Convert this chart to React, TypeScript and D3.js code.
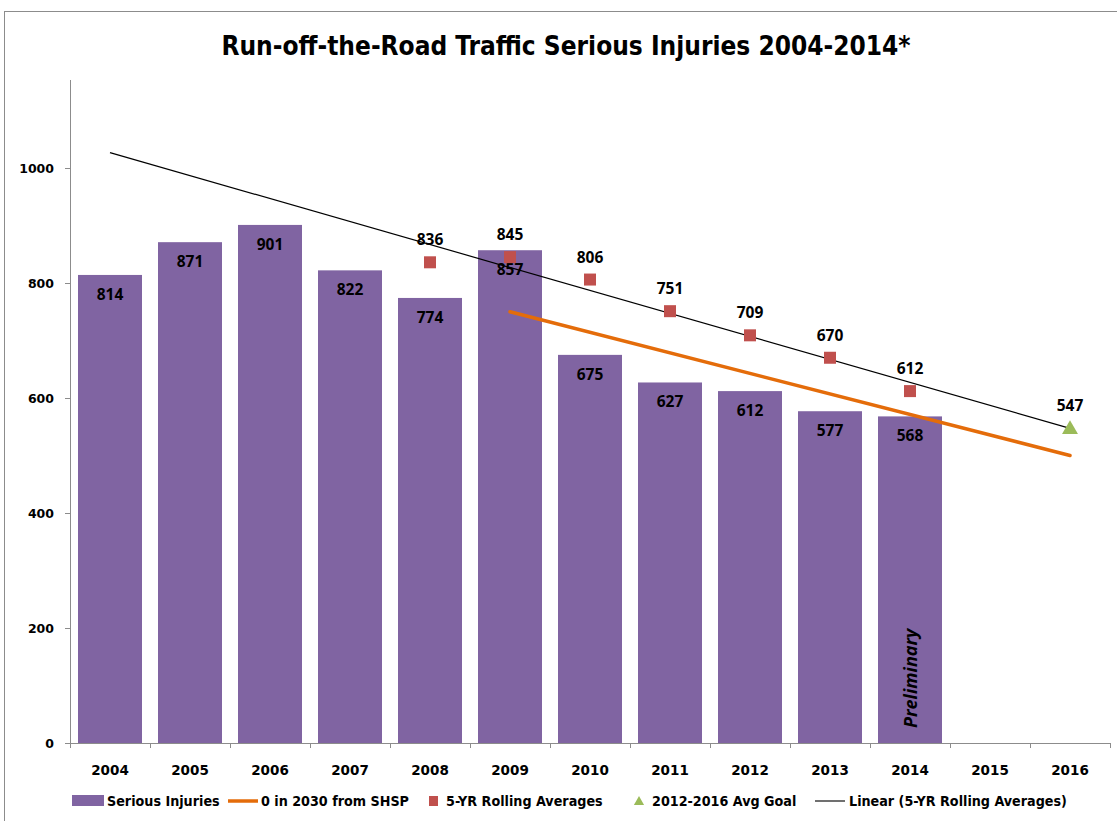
import { useEffect, useRef } from "react";
import * as d3 from "d3";

const years = ["2004", "2005", "2006", "2007", "2008", "2009", "2010", "2011", "2012", "2013", "2014", "2015", "2016"];
const injuryYears = ["2004", "2005", "2006", "2007", "2008", "2009", "2010", "2011", "2012", "2013", "2014"];
const injuries = [814, 871, 901, 822, 774, 857, 675, 627, 612, 577, 568];
const rollingYears = ["2008", "2009", "2010", "2011", "2012", "2013", "2014"];
const rollingAvg = [836, 845, 806, 751, 709, 670, 612];
const shspYears = ["2009", "2016"];
const shspValues = [750, 500];
const goalYear = "2016";
const goalValue = 547;
const yTicks = [0, 200, 400, 600, 800, 1000];

const condensed = "'DejaVu Sans Condensed', 'Liberation Sans Narrow', sans-serif";

export default function App() {
  const svgRef = useRef<SVGSVGElement>(null);

  useEffect(() => {
    if (!svgRef.current) return;
    const svg = d3.select(svgRef.current);
    svg.selectAll("*").remove();

    const left = 70;
    const right = 1110;
    const top = 80;
    const bottom = 743;

    const x = d3.scaleBand<string>().domain(years).range([left, right]).paddingInner(0.2).paddingOuter(0.1);
    const y = d3.scaleLinear().domain([0, 1000]).range([bottom, 168]);
    const cx = (yr: string) => (x(yr) ?? 0) + x.bandwidth() / 2;

    // outer border
    svg.append("rect").attr("x", 4.5).attr("y", 11.5).attr("width", 1200).attr("height", 900)
      .attr("fill", "none").attr("stroke", "#8c8c8c").attr("stroke-width", 1);

    // title
    svg.append("text").attr("x", 566).attr("y", 55).attr("text-anchor", "middle")
      .attr("font-family", condensed).attr("font-weight", "bold").attr("font-size", 26)
      .attr("fill", "#000").text("Run-off-the-Road Traffic Serious Injuries 2004-2014*");

    // bars
    svg.selectAll("rect.bar").data(injuries).enter().append("rect")
      .attr("class", "bar")
      .attr("x", (_, i) => x(injuryYears[i]) ?? 0)
      .attr("y", (d) => y(d))
      .attr("width", x.bandwidth())
      .attr("height", (d) => bottom - y(d))
      .attr("fill", "#8064A2");

    svg.selectAll("text.barlabel").data(injuries).enter().append("text")
      .attr("x", (_, i) => cx(injuryYears[i]))
      .attr("y", (d) => y(d) + 25)
      .attr("text-anchor", "middle")
      .attr("font-family", "'Open Sans', sans-serif").attr("font-weight", "bold").attr("font-size", 15.5)
      .attr("fill", "#000").text((d) => d);

    // preliminary label
    svg.append("text")
      .attr("transform", `translate(${cx("2014") + 7},728) rotate(-90)`)
      .attr("font-family", "'Open Sans', sans-serif").attr("font-weight", "bold").attr("font-style", "italic")
      .attr("font-size", 18).attr("fill", "#000").text("Preliminary");

    // axes
    const yAxis = svg.append("g");
    yAxis.append("line").attr("x1", left + 0.5).attr("x2", left + 0.5).attr("y1", top).attr("y2", bottom)
      .attr("stroke", "#8c8c8c");
    yTicks.forEach((t) => {
      yAxis.append("line").attr("x1", left - 5).attr("x2", left).attr("y1", y(t) + 0.5).attr("y2", y(t) + 0.5)
        .attr("stroke", "#8c8c8c");
      yAxis.append("text").attr("x", 54).attr("y", y(t) + 4.5).attr("text-anchor", "end")
        .attr("font-family", "'DejaVu Sans', sans-serif").attr("font-weight", "bold").attr("font-size", 12.5)
        .attr("fill", "#000").text(t);
    });

    const xAxis = svg.append("g");
    xAxis.append("line").attr("x1", left).attr("x2", right).attr("y1", bottom + 0.5).attr("y2", bottom + 0.5)
      .attr("stroke", "#8c8c8c");
    d3.range(years.length + 1).forEach((i) => {
      const tx = left + ((right - left) / years.length) * i + 0.5;
      xAxis.append("line").attr("x1", tx).attr("x2", tx).attr("y1", bottom).attr("y2", bottom + 5)
        .attr("stroke", "#8c8c8c");
    });
    years.forEach((yr) => {
      xAxis.append("text").attr("x", cx(yr)).attr("y", 775).attr("text-anchor", "middle")
        .attr("font-family", "'DejaVu Sans', sans-serif").attr("font-weight", "bold").attr("font-size", 13.5)
        .attr("fill", "#000").text(yr);
    });

    // SHSP line
    const line = d3.line<[number, number]>().x((d) => d[0]).y((d) => d[1]);
    svg.append("path")
      .attr("d", line(shspYears.map((yr, i) => [cx(yr), y(shspValues[i])] as [number, number])))
      .attr("stroke", "#E46C0A").attr("stroke-width", 3.5).attr("fill", "none").attr("stroke-linecap", "round");

    // linear trend of rolling averages (least squares over category index)
    const xi = rollingYears.map((yr) => years.indexOf(yr));
    const mx = d3.mean(xi) ?? 0;
    const my = d3.mean(rollingAvg) ?? 0;
    const sxy = d3.sum(xi.map((v, i) => (v - mx) * (rollingAvg[i] - my)));
    const sxx = d3.sum(xi.map((v) => (v - mx) ** 2));
    const slope = sxy / sxx;
    const fit = (i: number) => my + slope * (i - mx);
    svg.append("path")
      .attr("d", line([[cx(years[0]), y(fit(0))], [cx(years[years.length - 1]), y(fit(years.length - 1))]]))
      .attr("stroke", "#000").attr("stroke-width", 1.2).attr("fill", "none");

    // rolling averages
    svg.selectAll("rect.avg").data(rollingAvg).enter().append("rect")
      .attr("x", (_, i) => cx(rollingYears[i]) - 6)
      .attr("y", (d) => y(d) - 6)
      .attr("width", 12).attr("height", 12)
      .attr("fill", "#C0504D");
    svg.selectAll("text.avglabel").data(rollingAvg).enter().append("text")
      .attr("x", (_, i) => cx(rollingYears[i]))
      .attr("y", (d) => y(d) - 17)
      .attr("text-anchor", "middle")
      .attr("font-family", "'Open Sans', sans-serif").attr("font-weight", "bold").attr("font-size", 15.5)
      .attr("fill", "#000").text((d) => d);

    // goal
    const gx = cx(goalYear);
    const gy = y(goalValue);
    svg.append("path").attr("d", d3.symbol(d3.symbolTriangle, 110)())
      .attr("transform", `translate(${gx},${gy + 1})`).attr("fill", "#9BBB59");
    svg.append("text").attr("x", gx).attr("y", gy - 17).attr("text-anchor", "middle")
      .attr("font-family", "'Open Sans', sans-serif").attr("font-weight", "bold").attr("font-size", 15.5)
      .attr("fill", "#000").text(goalValue);

    // legend
    const ly = 801;
    const lg = svg.append("g").attr("font-family", condensed).attr("font-weight", "bold").attr("font-size", 14.2);
    lg.append("rect").attr("x", 72).attr("y", ly - 6).attr("width", 32).attr("height", 11).attr("fill", "#8064A2");
    lg.append("text").attr("x", 107).attr("y", ly + 5).text("Serious Injuries");
    lg.append("line").attr("x1", 228).attr("x2", 258).attr("y1", ly).attr("y2", ly)
      .attr("stroke", "#E46C0A").attr("stroke-width", 3.5);
    lg.append("text").attr("x", 261).attr("y", ly + 5).text("0 in 2030 from SHSP");
    lg.append("rect").attr("x", 429).attr("y", ly - 5).attr("width", 9).attr("height", 10).attr("fill", "#C0504D");
    lg.append("text").attr("x", 446).attr("y", ly + 5).text("5-YR Rolling Averages");
    lg.append("path").attr("d", d3.symbol(d3.symbolTriangle, 45)())
      .attr("transform", `translate(639,${ly + 1})`).attr("fill", "#9BBB59");
    lg.append("text").attr("x", 652).attr("y", ly + 5).text("2012-2016 Avg Goal");
    lg.append("line").attr("x1", 815).attr("x2", 845).attr("y1", ly).attr("y2", ly)
      .attr("stroke", "#404040").attr("stroke-width", 1.5);
    lg.append("text").attr("x", 849).attr("y", ly + 5).text("Linear (5-YR Rolling Averages)");
  }, []);

  return (
    <svg
      ref={svgRef}
      width={1117}
      height={821}
      style={{ position: "absolute", left: 0, top: 0, background: "#fff" }}
    />
  );
}
